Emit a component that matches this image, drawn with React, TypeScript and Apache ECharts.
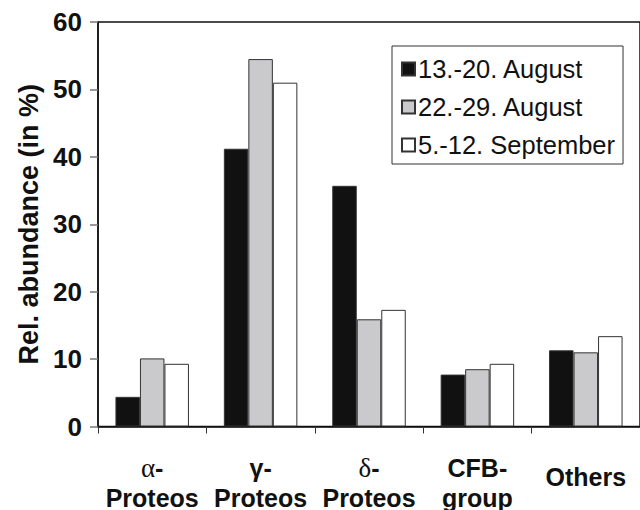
import React, { useEffect, useRef } from "react";
import * as echarts from "echarts";

const categories = ["α-Proteos", "γ-Proteos", "δ-Proteos", "CFB-group", "Others"];
const seriesNames = ["13.-20. August", "22.-29. August", "5.-12. September"];
const aug13 = [4.4, 41.2, 35.7, 7.7, 11.3];
const aug22 = [10.1, 54.5, 15.9, 8.5, 11.0];
const sep5 = [9.3, 51.0, 17.3, 9.3, 13.4];
const yTicks = { min: 0, max: 60, interval: 10 };

const labelMap: Record<string, string> = {
  "α-Proteos": "{g|α}{b|-}\n{b|Proteos}",
  "γ-Proteos": "{b|γ-}\n{b|Proteos}",
  "δ-Proteos": "{g|δ}{b|-}\n{b|Proteos}",
  "CFB-group": "{b|CFB-}\n{b|group}",
  Others: "{o|Others}",
};

export default function App() {
  const ref = useRef<HTMLDivElement>(null);
  useEffect(() => {
    if (!ref.current) return;
    document.body.style.margin = "0";
    document.body.style.overflow = "hidden";
    const chart = echarts.init(ref.current, null, { renderer: "svg" });
    const font = "'Liberation Sans', Arial, sans-serif";
    const fills = ["#111111", "#cacacc", "#ffffff"];
    const data = [aug13, aug22, sep5];
    chart.setOption({
      animation: false,
      backgroundColor: "#ffffff",
      grid: {
        left: 98,
        top: 22,
        width: 545,
        height: 407,
        show: true,
        borderColor: "#111",
        borderWidth: 1.5,
        backgroundColor: "transparent",
      },
      legend: {
        orient: "vertical",
        left: 392,
        top: 46,
        borderColor: "#333",
        borderWidth: 1,
        padding: [10, 8, 6, 9],
        itemWidth: 13,
        itemHeight: 13,
        itemGap: 12,
        icon: "rect",
        data: seriesNames,
        textStyle: {
          fontFamily: font,
          fontSize: 25.5,
          color: "#111",
          lineHeight: 26,
          padding: [0, 0, 0, -2],
        },
      },
      xAxis: {
        type: "category",
        data: categories,
        axisLine: { show: true, lineStyle: { color: "#111", width: 1.5 } },
        axisTick: { show: true, length: 7, lineStyle: { color: "#333", width: 1 } },
        axisLabel: {
          interval: 0,
          margin: 26,
          verticalAlign: "top",
          formatter: (v: string) => labelMap[v] ?? v,
          rich: {
            b: {
              fontFamily: font,
              fontWeight: "bold",
              fontSize: 25,
              lineHeight: 30,
              color: "#111",
            },
            g: {
              fontFamily: "'Liberation Serif', serif",
              fontSize: 27,
              lineHeight: 30,
              color: "#111",
            },
            o: {
              fontFamily: font,
              fontWeight: "bold",
              fontSize: 25,
              lineHeight: 48,
              color: "#111",
            },
          },
        },
      },
      yAxis: {
        type: "value",
        min: yTicks.min,
        max: yTicks.max,
        interval: yTicks.interval,
        name: "Rel. abundance (in %)",
        nameLocation: "middle",
        nameGap: 56,
        nameTextStyle: {
          fontFamily: font,
          fontWeight: "bold",
          fontSize: 27,
          color: "#111",
        },
        axisLine: { show: true, lineStyle: { color: "#111", width: 1.5 } },
        axisTick: { show: true, length: 8, lineStyle: { color: "#777", width: 1.5 } },
        splitLine: { show: false },
        axisLabel: {
          margin: 16,
          fontFamily: font,
          fontWeight: "bold",
          fontSize: 26,
          color: "#111",
        },
      },
      series: seriesNames.map((name, i) => ({
        name,
        type: "bar",
        data: data[i],
        barWidth: 24.5,
        barGap: "0%",
        itemStyle: { color: fills[i], borderColor: "#333", borderWidth: 1 },
      })),
    });
    return () => chart.dispose();
  }, []);
  return (
    <div
      ref={ref}
      style={{ position: "absolute", left: 0, top: 0, width: 640, height: 510 }}
    />
  );
}
